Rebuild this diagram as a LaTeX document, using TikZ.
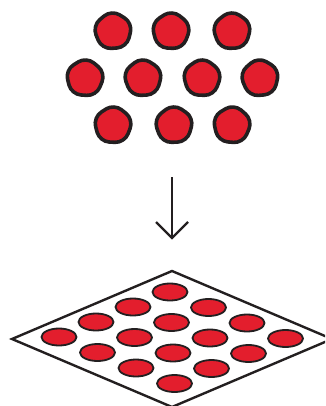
\documentclass[tikz,border=0pt]{standalone}
\usetikzlibrary{shapes.geometric,calc}
\definecolor{dotred}{RGB}{227,30,45}
\definecolor{ink}{RGB}{35,31,32}
\tikzset{
  blob/.style={shape=regular polygon, regular polygon sides=5, minimum size=42.5pt, inner sep=0pt,
    rounded corners=9.5pt, draw=ink, line width=3.6pt, fill=dotred},
  well/.style={shape=ellipse, minimum width=35pt, minimum height=17pt, inner sep=0pt,
    draw=ink, line width=1.8pt, fill=dotred},
  plate/.style={draw=ink, line width=2.4pt, fill=white, line join=miter},
  arrowline/.style={draw=ink, line width=2.2pt}
}
\begin{document}
\begin{tikzpicture}[x=1pt,y=-1pt]
\useasboundingbox (0,0) rectangle (325,406);
\clip (0,0) rectangle (325,406);
% top dots
\node[blob, rotate=4] (d1) at (113,31) {};
\node[blob, rotate=-3] (d2) at (171,31) {};
\node[blob, rotate=2] (d3) at (232,31) {};
\node[blob, rotate=-4] (d4) at (85,78) {};
\node[blob, rotate=3] (d5) at (143,78) {};
\node[blob, rotate=-2] (d6) at (202,78) {};
\node[blob, rotate=5] (d7) at (260,78) {};
\node[blob, rotate=-3] (d8) at (113,125) {};
\node[blob, rotate=2] (d9) at (174,125) {};
\node[blob, rotate=-5] (d10) at (232,125) {};
% arrow
\coordinate (atop) at (172,177);
\coordinate (atip) at (172,238);
\coordinate (wl) at (156,222);
\coordinate (wr) at (188,222);
\draw[arrowline] (atop) -- (atip);
\draw[arrowline, line join=miter] (wl) -- (atip) -- (wr);
% plate
\coordinate (pt) at (172,271);
\coordinate (pl) at (12,339);
\coordinate (pb) at (172,407);
\coordinate (pr) at (332,339);
\path[plate] (pt) -- (pr) -- (pb) -- (pl) -- cycle;
% wells
\foreach \a in {0,1,2,3}{
  \foreach \b in {0,1,2,3}{
    \node[well] (w\a\b) at ({170-37*\a+38.5*\b},{292+15*\a+15.5*\b}) {};
  }
}
\end{tikzpicture}
\end{document}
